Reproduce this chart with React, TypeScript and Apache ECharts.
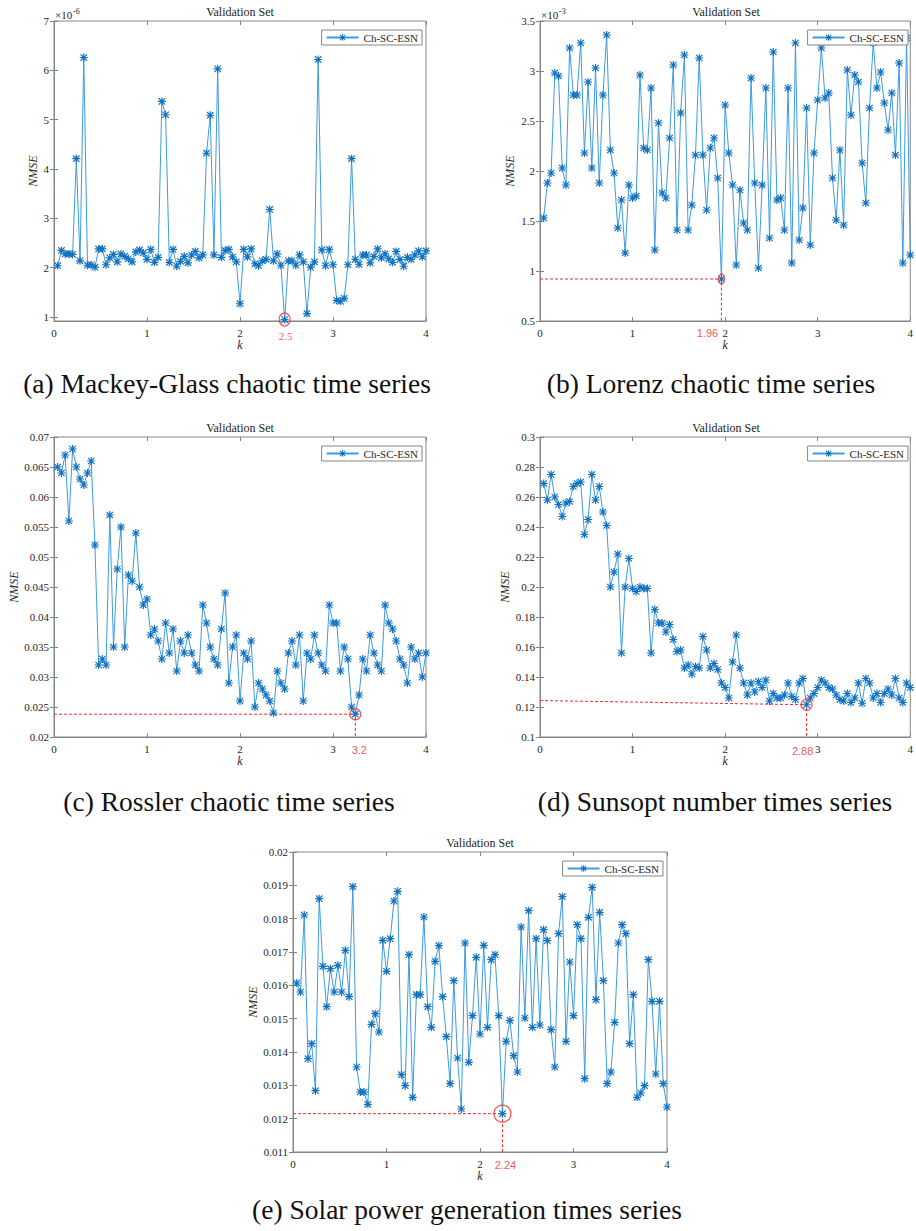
import React, { useEffect, useRef } from "react";
import * as echarts from "echarts";

// k grid shared by every panel: 0.04, 0.08, ..., 4.00
const kValues: number[] = [];
for (let i = 1; i <= 100; i++) kValues.push(Math.round(i * 4) / 100);

// (a) Mackey-Glass, NMSE in units of 1e-6
const mackeyGlass = [
  2.04, 2.35, 2.28, 2.28, 2.27, 4.21, 2.14, 6.26, 2.05, 2.06,
  2.01, 2.38, 2.38, 2.06, 2.2, 2.27, 2.12, 2.28, 2.23, 2.18,
  2.12, 2.32, 2.36, 2.3, 2.17, 2.37, 2.11, 2.21, 5.37, 5.1,
  2.11, 2.37, 2.03, 2.13, 2.23, 2.1, 2.26, 2.33, 2.2, 2.26,
  4.32, 5.09, 2.26, 6.03, 2.21, 2.35, 2.37, 2.22, 2.12, 1.27,
  2.37, 2.22, 2.38, 2.08, 2.04, 2.14, 2.17, 3.18, 2.14, 2.28,
  2.05, 0.95, 2.14, 2.14, 2.05, 2.26, 2.12, 1.07, 2.01, 2.12,
  6.22, 2.36, 2.04, 2.37, 2.06, 1.34, 1.32, 1.38, 2.06, 4.21,
  2.17, 2.07, 2.26, 2.26, 2.1, 2.23, 2.38, 2.2, 2.28, 2.18,
  2.11, 2.33, 2.17, 2.03, 2.21, 2.17, 2.26, 2.34, 2.22, 2.34,
];

// (b) Lorenz, NMSE in units of 1e-3
const lorenz = [
  1.53, 1.88, 1.98, 2.98, 2.95, 2.03, 1.86, 3.23, 2.76, 2.76,
  3.28, 2.18, 2.89, 2.03, 3.03, 1.88, 2.76, 3.36, 2.21, 1.98,
  1.43, 1.71, 1.18, 1.86, 1.73, 1.75, 2.96, 2.23, 2.21, 2.83,
  1.21, 2.48, 1.78, 1.73, 2.33, 3.06, 1.41, 2.58, 3.16, 1.41,
  1.66, 2.16, 3.13, 2.16, 1.61, 2.23, 2.33, 1.93, 0.92, 2.66,
  2.18, 1.86, 1.06, 1.81, 1.48, 1.41, 2.93, 1.88, 1.03, 1.86,
  2.83, 1.33, 3.19, 1.71, 1.73, 1.41, 2.83, 1.08, 3.28, 1.31,
  1.63, 2.63, 1.26, 2.18, 2.71, 3.23, 2.73, 2.78, 1.93, 1.51,
  2.21, 1.46, 3.01, 2.56, 2.96, 2.89, 2.08, 1.68, 2.63, 3.28,
  2.83, 2.99, 2.68, 2.41, 2.78, 2.16, 3.08, 1.08, 3.33, 1.16,
];

// (c) Rossler
const rossler = [
  0.065, 0.064, 0.067, 0.056, 0.068, 0.065, 0.063, 0.062, 0.064, 0.066,
  0.052, 0.032, 0.033, 0.032, 0.057, 0.035, 0.048, 0.055, 0.035, 0.047,
  0.046, 0.054, 0.045, 0.042, 0.043, 0.037, 0.038, 0.036, 0.033, 0.039,
  0.034, 0.038, 0.031, 0.036, 0.034, 0.037, 0.034, 0.032, 0.031, 0.042,
  0.039, 0.035, 0.033, 0.032, 0.038, 0.044, 0.029, 0.035, 0.037, 0.026,
  0.034, 0.033, 0.036, 0.025, 0.029, 0.028, 0.027, 0.026, 0.024, 0.031,
  0.029, 0.028, 0.034, 0.036, 0.032, 0.037, 0.026, 0.034, 0.033, 0.037,
  0.034, 0.032, 0.031, 0.042, 0.039, 0.039, 0.031, 0.035, 0.033, 0.025,
  0.0238, 0.027, 0.033, 0.031, 0.037, 0.034, 0.032, 0.031, 0.042, 0.039,
  0.038, 0.036, 0.033, 0.032, 0.029, 0.035, 0.033, 0.034, 0.03, 0.034,
];

// (d) Sunspot number
const sunspot = [
  0.269, 0.258, 0.275, 0.26, 0.255, 0.247, 0.256, 0.257, 0.267, 0.269,
  0.27, 0.235, 0.245, 0.275, 0.258, 0.267, 0.25, 0.241, 0.2, 0.21,
  0.222, 0.156, 0.2, 0.219, 0.199, 0.197, 0.2, 0.199, 0.199, 0.156,
  0.185, 0.176, 0.176, 0.17, 0.175, 0.165, 0.157, 0.158, 0.146, 0.148,
  0.142, 0.147, 0.146, 0.167, 0.158, 0.146, 0.149, 0.145, 0.136, 0.133,
  0.126, 0.15, 0.168, 0.146, 0.136, 0.128, 0.136, 0.13, 0.137, 0.133,
  0.138, 0.124, 0.129, 0.126, 0.126, 0.128, 0.136, 0.127, 0.125, 0.136,
  0.139, 0.1215, 0.126, 0.129, 0.133, 0.138, 0.136, 0.133, 0.132, 0.128,
  0.125, 0.124, 0.129, 0.123, 0.126, 0.136, 0.1225, 0.139, 0.136, 0.126,
  0.129, 0.123, 0.129, 0.132, 0.128, 0.139, 0.126, 0.123, 0.136, 0.133,
];

// (e) Solar power generation
const solar = [
  0.01607, 0.0158, 0.01811, 0.0138, 0.01425, 0.01284, 0.0186, 0.01657, 0.01536, 0.0165,
  0.0158, 0.0166, 0.0158, 0.01705, 0.01566, 0.01896, 0.01355, 0.0128, 0.0128, 0.01243,
  0.01483, 0.01515, 0.0146, 0.01735, 0.01642, 0.0174, 0.01853, 0.01882, 0.01332, 0.01299,
  0.01692, 0.01264, 0.01572, 0.01572, 0.01805, 0.01536, 0.01474, 0.01672, 0.01719, 0.01566,
  0.01446, 0.01305, 0.01614, 0.01382, 0.01229, 0.01727, 0.01369, 0.01509, 0.01684, 0.01454,
  0.0172, 0.01474, 0.01677, 0.01692, 0.01509, 0.01215, 0.01432, 0.01495, 0.01389, 0.0134,
  0.01775, 0.01502, 0.01824, 0.01474, 0.0174, 0.01481, 0.01767, 0.01734, 0.01467, 0.01355,
  0.01755, 0.01866, 0.01432, 0.0167, 0.01509, 0.01782, 0.0174, 0.0132, 0.01804, 0.01894,
  0.01557, 0.01819, 0.01614, 0.01305, 0.0134, 0.01489, 0.01727, 0.01782, 0.01755, 0.01425,
  0.01572, 0.01264, 0.01277, 0.01299, 0.01677, 0.01552, 0.01334, 0.01552, 0.01305, 0.01235,
];

const panelValues = [mackeyGlass, lorenz, rossler, sunspot, solar];
const captions = [
  "(a) Mackey-Glass chaotic time series",
  "(b) Lorenz chaotic time series",
  "(c) Rossler chaotic time series",
  "(d) Sunsopt number times series",
  "(e) Solar power generation times series",
];
const seriesName = "Ch-SC-ESN";
const panelTitle = "Validation Set";
const yMins = [0.92, 0.5, 0.02, 0.1, 0.011];
const yMaxs = [7, 3.5, 0.07, 0.3, 0.02];
const yIntervals = [1, 0.5, 0.005, 0.02, 0.001];
const yCustomTicks: (number[] | null)[] = [[1, 2, 3, 4, 5, 6, 7], null, null, null, null];
const scaleExponents = ["-6", "-3", "", "", ""];
const minLabels = ["2.5", "1.96", "3.2", "2.88", "2.24"];
// y where the horizontal guide starts at k = 0 (null: no guides)
const guideStartY: (number | null)[] = [null, 0.92, 0.0238, 0.1243, 0.01215];

// layout
const W = 916;
const H = 1231;
const layouts = [
  { left: 54, top: 21, width: 372, height: 300 },
  { left: 540, top: 21, width: 372, height: 300 },
  { left: 54, top: 437, width: 372, height: 300 },
  { left: 540, top: 437, width: 372, height: 300 },
  { left: 293, top: 852, width: 374, height: 300 },
];
const captionPos = [
  [227, 383],
  [711, 383],
  [229, 801],
  [715, 801],
  [467, 1209],
];
const yNameGaps = [15, 24, 34, 29, 34];
const ringSizes = [[11, 13], [6, 10], [11, 11], [11, 11], [17, 17]];
const minLabelOffsets = [[1, 3], [-14, 0], [4, 1], [-4, 2], [3, 1]];

const SERIF = '"Liberation Serif", "Times New Roman", serif';
const SANS = '"Liberation Sans", Arial, sans-serif';
const TXT = "#262626";
const AXIS = "#858585";
const LINE = "#3d9be0";
const MARK = "#1272c2";
const RED = "#f2282d";
const ASTERISK =
  "path://M8.5 0H11.5V20H8.5Z M0 8.5H20V11.5H0Z M0.94 3.06L3.06 0.94L19.06 16.94L16.94 19.06Z M16.94 0.94L19.06 3.06L3.06 19.06L0.94 16.94Z";

function argmin(a: number[]) {
  let m = 0;
  for (let i = 1; i < a.length; i++) if (a[i] < a[m]) m = i;
  return m;
}

function buildOption() {
  const grid: any[] = [];
  const xAxis: any[] = [];
  const yAxis: any[] = [];
  const series: any[] = [];
  const legend: any[] = [];
  const graphic: any[] = [];

  panelValues.forEach((values, p) => {
    const g = layouts[p];
    grid.push({
      left: g.left,
      top: g.top,
      width: g.width,
      height: g.height,
      show: true,
      borderColor: AXIS,
      borderWidth: 1,
      backgroundColor: "#fff",
    });
    const tick = { show: true, inside: true, length: 4, lineStyle: { color: AXIS, width: 1 } };
    const nameStyle = { fontFamily: SERIF, fontStyle: "italic", fontSize: 12, color: TXT };

    xAxis.push({
      type: "value",
      gridIndex: p,
      position: "bottom",
      min: 0,
      max: 4,
      interval: 1,
      axisLine: { show: true, onZero: false, lineStyle: { color: AXIS } },
      axisTick: tick,
      axisLabel: { color: TXT, fontFamily: SERIF, fontSize: 11, margin: 6 },
      splitLine: { show: false },
      name: "k",
      nameLocation: "middle",
      nameGap: 18,
      nameTextStyle: nameStyle,
    });
    xAxis.push({
      type: "value",
      gridIndex: p,
      position: "top",
      min: 0,
      max: 4,
      interval: 1,
      axisLine: { show: false },
      axisTick: tick,
      axisLabel: { show: false },
      splitLine: { show: false },
    });

    const custom = yCustomTicks[p];
    const yLabel: any = {
      color: TXT,
      fontFamily: SERIF,
      fontSize: 11,
      margin: 5,
      formatter: (v: number) => String(+v.toFixed(4)),
    };
    const yTick: any = { ...tick };
    const yTickR: any = { ...tick };
    if (custom) {
      yLabel.customValues = custom;
      yTick.customValues = custom;
      yTickR.customValues = custom;
    }
    const yCommon: any = {
      type: "value",
      gridIndex: p,
      min: yMins[p],
      max: yMaxs[p],
      splitLine: { show: false },
    };
    if (!custom) yCommon.interval = yIntervals[p];
    yAxis.push({
      ...yCommon,
      position: "left",
      axisLine: { show: true, onZero: false, lineStyle: { color: AXIS } },
      axisTick: yTick,
      axisLabel: yLabel,
      name: "NMSE",
      nameLocation: "middle",
      nameRotate: 90,
      nameGap: yNameGaps[p],
      nameTextStyle: nameStyle,
    });
    yAxis.push({
      ...yCommon,
      position: "right",
      axisLine: { show: false },
      axisTick: yTickR,
      axisLabel: { show: false },
    });

    const xi = 2 * p;
    const yi = 2 * p;
    series.push({
      type: "line",
      name: seriesName,
      xAxisIndex: xi,
      yAxisIndex: yi,
      data: kValues.map((k, i) => [k, values[i]]),
      symbol: ASTERISK,
      symbolSize: 8,
      showAllSymbol: true,
      lineStyle: { color: LINE, width: 1 },
      itemStyle: { color: MARK },
      emphasis: { disabled: true },
      z: 3,
    });

    const mi = argmin(values);
    const km = kValues[mi];
    const vm = values[mi];
    const gs = guideStartY[p];
    if (gs !== null) {
      series.push({
        type: "line",
        xAxisIndex: xi,
        yAxisIndex: yi,
        data: [[0, gs], [km, vm], [km, yMins[p]]],
        symbol: "none",
        lineStyle: { color: RED, width: 1, type: [3, 2] },
        silent: true,
        z: 2,
      });
    }
    series.push({
      type: "scatter",
      xAxisIndex: xi,
      yAxisIndex: yi,
      data: [[km, vm]],
      symbol: "circle",
      symbolSize: ringSizes[p],
      itemStyle: { color: "rgba(0,0,0,0)", borderColor: RED, borderWidth: 1.2 },
      silent: true,
      z: 4,
    });
    series.push({
      type: "scatter",
      xAxisIndex: xi,
      yAxisIndex: yi,
      data: [[km, yMins[p]]],
      symbolSize: 1,
      itemStyle: { color: "rgba(0,0,0,0)" },
      clip: false,
      silent: true,
      label: {
        show: true,
        position: "bottom",
        distance: 6,
        offset: minLabelOffsets[p],
        formatter: minLabels[p],
        color: RED,
        fontFamily: p === 0 ? SERIF : SANS,
        fontSize: 11,
      },
    });

    legend.push({
      data: [seriesName],
      right: W - (g.left + g.width) + 4,
      top: g.top + 9,
      itemWidth: 32,
      itemHeight: 8,
      padding: [2, 4, 2, 4],
      borderColor: AXIS,
      borderWidth: 1,
      borderRadius: 0,
      backgroundColor: "#fff",
      selectedMode: false,
      textStyle: { fontFamily: SERIF, fontSize: 11, color: TXT },
    });

    graphic.push({
      type: "text",
      x: g.left + g.width / 2,
      y: g.top - 9,
      style: {
        text: panelTitle,
        fontFamily: SERIF,
        fontSize: 12,
        fill: TXT,
        textAlign: "center",
        textVerticalAlign: "middle",
        align: "center",
        verticalAlign: "middle",
      },
    });
    if (scaleExponents[p]) {
      graphic.push({
        type: "text",
        x: g.left + 1,
        y: g.top - 6,
        style: {
          text: "×10",
          fontFamily: SERIF,
          fontSize: 11,
          fill: TXT,
          textAlign: "left",
          textVerticalAlign: "middle",
          align: "left",
          verticalAlign: "middle",
        },
      });
      graphic.push({
        type: "text",
        x: g.left + 19,
        y: g.top - 10,
        style: {
          text: scaleExponents[p],
          fontFamily: SERIF,
          fontSize: 8,
          fill: TXT,
          textAlign: "left",
          textVerticalAlign: "middle",
          align: "left",
          verticalAlign: "middle",
        },
      });
    }
    graphic.push({
      type: "text",
      x: captionPos[p][0],
      y: captionPos[p][1],
      style: {
        text: captions[p],
        fontFamily: SERIF,
        fontSize: 27.5,
        fill: "#111",
        textAlign: "center",
        textVerticalAlign: "middle",
        align: "center",
        verticalAlign: "middle",
      },
    });
  });

  return {
    animation: false,
    backgroundColor: "#fff",
    grid,
    xAxis,
    yAxis,
    legend,
    series,
    graphic,
  };
}

export default function App() {
  const ref = useRef<HTMLDivElement>(null);
  useEffect(() => {
    if (!ref.current) return;
    const chart = echarts.init(ref.current, undefined, { renderer: "svg", width: W, height: H });
    chart.setOption(buildOption() as any);
    return () => chart.dispose();
  }, []);
  return (
    <div
      ref={ref}
      style={{ position: "absolute", left: 0, top: 0, width: W, height: H, background: "#fff" }}
    />
  );
}
